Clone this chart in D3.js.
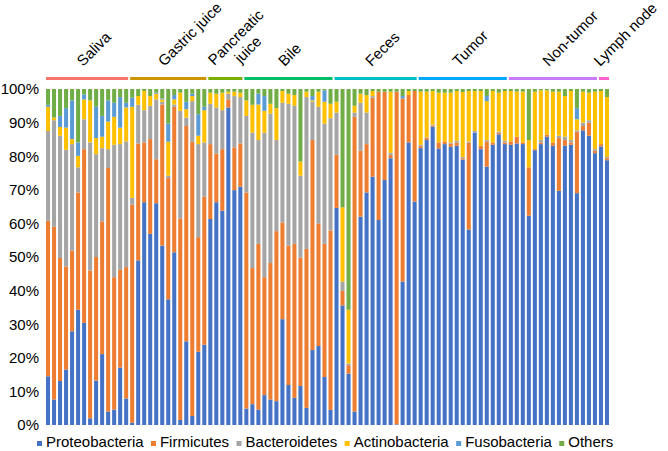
<!DOCTYPE html>
<html>
<head>
<meta charset="utf-8">
<script src="https://cdn.jsdelivr.net/npm/d3@7"></script>
<style>
  body { margin: 0; background: #fff; }
  svg text { font-family: "Liberation Sans", Arial, Helvetica, sans-serif; fill: #000; }
</style>
</head>
<body>
<div id="container"></div>
<script>
// groups of samples along the x axis
const groupNames = ["Saliva", "Gastric juice", "Pancreatic juice", "Bile", "Feces", "Tumor", "Non-tumor", "Lymph node"];
const groupSizes = [14, 13, 6, 15, 14, 15, 15, 2];
const groupColors = ["#F8766D", "#CD9600", "#7CAE00", "#00BE67", "#00BFC4", "#00A9FF", "#C77CFF", "#FF61CC"];
// the narrow pancreatic group wraps its label on two lines
const groupLabelLines = [["Saliva"], ["Gastric juice"], ["Pancreatic", "juice"], ["Bile"], ["Feces"], ["Tumor"], ["Non-tumor"], ["Lymph node"]];

const seriesNames = ["Proteobacteria", "Firmicutes", "Bacteroidetes", "Actinobacteria", "Fusobacteria", "Others"];
const seriesColors = ["#4472C4", "#ED7D31", "#A5A5A5", "#FFC000", "#5B9BD5", "#70AD47"];

const yTicks = [0, 10, 20, 30, 40, 50, 60, 70, 80, 90, 100];

// relative abundance (%) per sample
const proteobacteria = [14.5,7.6,13.1,16.5,27.9,34.3,30.4,2.0,13.2,21.1,4.0,4.6,17.1,7.9,
  0.7,49.0,66.3,56.9,66.0,53.4,37.4,51.4,1.5,24.9,2.7,21.8,23.9,
  61.3,66.3,63.8,94.5,69.9,70.9,
  4.9,6.2,4.6,8.9,7.6,7.1,31.5,11.9,8.1,11.6,5.1,22.3,23.5,14.3,4.5,
  64.6,35.6,15.3,4.0,62.0,69.2,73.9,61.0,72.9,79.4,0.2,42.7,84.1,66.5,
  82.4,84.8,88.8,82.3,83.6,82.8,83.1,79.0,58.2,87.0,82.1,76.9,83.4,86.5,83.6,
  83.4,83.8,83.6,62.3,81.8,83.6,85.8,83.1,69.7,83.1,83.4,69.0,87.7,86.1,80.9,
  82.9,78.8];
const firmicutes = [46.3,51.4,36.6,30.7,24.0,34.9,51.7,44.0,36.8,39.5,72.5,39.4,29.1,39.1,
  64.9,34.8,17.8,28.2,13.1,42.0,36.1,43.3,60.0,64.1,81.6,34.1,44.1,
  22.3,14.5,18.3,2.4,12.7,12.9,
  64.3,40.5,49.3,35.1,40.6,50.6,28.8,41.5,45.8,38.2,47.3,62.5,36.5,39.6,53.4,
  15.8,4.3,2.5,87.7,19.6,14.4,23.5,38.2,26.3,1.0,99.0,54.5,14.1,32.9,
  0.6,0.6,0.4,1.8,0.8,1.0,1.0,0.4,25.9,0,1.0,7.5,0.7,0.5,0.5,
  1.0,2.0,0.5,14.4,0.3,0.5,0.6,1.0,15.7,1.7,0.7,18.3,1.3,3.9,0.7,
  0.7,0.6];
const bacteroidetes = [26.7,31.7,36.4,34.7,31.7,7.5,8.9,38.1,30.6,21.8,5.6,39.4,37.4,37.4,
  2.0,11.5,9.6,9.9,17.8,0.8,0.7,0.7,32.0,2.5,12.1,27.7,16.1,
  12.0,13.7,11.6,1.7,15.3,13.8,
  22.8,40.3,30.9,43.0,44.5,27.1,35.6,42.2,41.1,24.4,45.2,11.4,34.7,35.8,33.4,
  12.6,2.8,0.5,1.3,14.3,9.4,0.5,0,0,0.6,0,0,0,0,
  0.4,0.2,0.2,0,0,0.3,0.5,0.4,0.3,0.5,0,0.4,0,0.3,0.5,
  0,0,0,0,0,0.7,0,0,0.7,1.0,0.7,0.4,1.0,0.7,0.5,
  0,0.4];
const actinobacteria = [7.2,0.8,2.6,6.6,1.5,3.4,5.9,12.5,4.8,3.4,8.2,8.3,4.9,10.1,
  27.1,2.6,5.7,2.9,1.7,0.7,10.1,1.5,5.4,2.5,1.5,2.5,9.6,
  3.3,4.1,5.2,0.6,1.3,1.3,
  4.6,8.3,10.6,6.5,2.9,9.5,3.5,3.0,3.2,4.2,1.6,0.4,4.5,6.5,4.3,
  3.2,22.1,16.0,2.0,2.7,5.2,1.5,0,0,18.2,0,0,1.2,0,
  15.8,13.6,10.0,14.8,14.5,14.8,14.8,19.3,15.0,11.9,16.3,11.6,15.3,11.6,14.8,
  15.0,13.4,15.1,8.1,17.1,14.8,13.2,15.1,13.1,12.1,14.6,3.3,9.2,8.2,17.1,
  15.8,17.8];
const fusobacteria = [0.6,0,3.3,5.8,11.5,4.0,1.5,0,9.3,6.2,6.3,4.2,9.1,1.4,
  2.7,0,0,0,0.3,0.3,5.4,1.3,0,2.2,0.7,6.4,1.0,
  0,0,0,0,0,0,
  0,0,3.2,4.4,0,0,0,0,0,0,0,1.3,0,3.4,0,
  0,0,0,0,0,0,0,0,0,0,0,0.7,0,0,
  0,0,0,0,0,0,0,0,0,0,0,1.5,0,0,0,
  0,0,0,0,0,0,0,0,0,0,0,3.3,0,0,0,
  0,0];
const others = [4.7,8.5,8.0,5.7,3.4,15.9,1.6,3.4,5.3,8.0,3.4,4.1,2.4,4.1,
  2.6,2.1,0.6,2.1,1.1,2.8,10.3,1.8,1.1,3.8,1.4,7.5,5.3,
  1.1,1.4,1.1,0.8,0.8,1.1,
  3.4,4.7,1.4,2.1,4.4,5.7,0.6,1.4,1.8,21.6,0.8,2.1,0.8,0.4,4.4,
  3.8,35.2,65.7,5.0,1.4,1.8,0.6,0.8,0.8,0.8,0.8,2.1,0.6,0.6,
  0.8,0.8,0.6,1.1,1.1,1.1,0.6,0.9,0.6,0.6,0.6,2.1,0.6,1.1,0.6,
  0.6,0.8,0.8,15.2,0.8,0.4,0.4,0.8,0.8,2.1,0.6,5.7,0.8,1.1,0.8,
  0.6,2.4];

const width = 668, height = 451;
const plot = {left: 45, right: 610, top: 89, bottom: 425};

// build table for the stack
const seriesValues = [proteobacteria, firmicutes, bacteroidetes, actinobacteria, fusobacteria, others];
const samples = proteobacteria.map((_, i) => {
  const row = {id: i};
  seriesNames.forEach((s, j) => row[s] = seriesValues[j][i]);
  return row;
});

// which group each sample belongs to
let groups = [], start = 0;
groupNames.forEach((g, i) => {
  groups.push({name: g, lines: groupLabelLines[i], first: start, last: start + groupSizes[i] - 1, color: groupColors[i]});
  start += groupSizes[i];
});

const xScale = d3.scaleBand()
  .domain(samples.map(d => d.id))
  .range([plot.left, plot.right])
  .paddingInner(0.33)
  .paddingOuter(0.17);

const yScale = d3.scaleLinear()
  .domain([0, 100])
  .range([plot.bottom, plot.top]);

const colorScale = d3.scaleOrdinal().domain(seriesNames).range(seriesColors);

const stacked = d3.stack().keys(seriesNames)(samples);

const svg = d3.select("#container").append("svg")
  .attr("width", width)
  .attr("height", height);

// bars
svg.append("g").selectAll("g")
  .data(stacked)
  .join("g")
    .attr("fill", d => colorScale(d.key))
  .selectAll("rect")
  .data(d => d)
  .join("rect")
    .attr("x", d => xScale(d.data.id))
    .attr("width", xScale.bandwidth())
    .attr("y", d => yScale(d[1]))
    .attr("height", d => Math.max(0, yScale(d[0]) - yScale(d[1])));

// y axis (labels only)
const yAxis = d3.axisLeft(yScale).tickValues(yTicks).tickFormat(d => d + "%").tickSize(0).tickPadding(0);
const yAxisGroup = svg.append("g")
  .attr("transform", `translate(${39},0)`)
  .call(yAxis);
yAxisGroup.select(".domain").remove();
yAxisGroup.selectAll("text")
  .attr("font-family", null)
  .style("font-size", "15px")
  .attr("fill", "#000");

// group bars + rotated labels on top
const groupG = svg.append("g").selectAll("g")
  .data(groups)
  .join("g");

groupG.append("rect")
  .attr("x", d => xScale(d.first))
  .attr("y", 77)
  .attr("width", d => xScale(d.last) + xScale.bandwidth() - xScale(d.first))
  .attr("height", 3)
  .attr("fill", d => d.color);

groupG.each(function(d) {
  const span = xScale(d.last) + xScale.bandwidth() - xScale(d.first);
  const cx = xScale(d.first) + span / 2;
  const t = d3.select(this).append("text")
    .attr("transform", `translate(${cx - 4},${67}) rotate(-45)`)
    .style("font-size", "15px");
  if (d.lines.length === 1) {
    t.attr("text-anchor", "start").text(d.lines[0]);
  } else {
    const tsp = t.selectAll("tspan").data(d.lines).join("tspan")
      .attr("dy", (l, i) => i === 0 ? 0 : "1.15em")
      .text(l => l);
    const w = tsp.node().getComputedTextLength();
    t.attr("text-anchor", "middle")
      .attr("transform", `translate(${cx - 11},${66}) rotate(-45)`);
    tsp.attr("x", w / 2);
  }
});

// legend
const legend = svg.append("g").attr("transform", "translate(37,447)");
let lx = 0;
seriesNames.forEach((s, i) => {
  legend.append("rect")
    .attr("x", lx).attr("y", -6)
    .attr("width", 5).attr("height", 5)
    .attr("fill", seriesColors[i]);
  const txt = legend.append("text")
    .attr("x", lx + 9)
    .style("font-size", "15px")
    .text(s);
  lx += 9 + txt.node().getComputedTextLength() + 7.4;
});
</script>
</body>
</html>
